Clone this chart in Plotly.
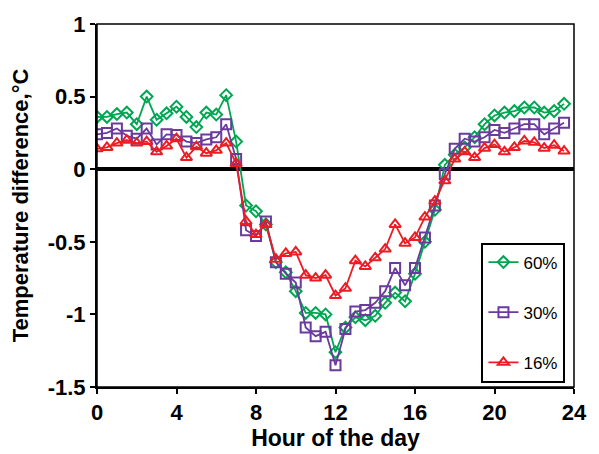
import plotly.graph_objects as go

hours = [i * 0.5 for i in range(48)]

g60 = [0.36, 0.36, 0.38, 0.39, 0.31, 0.50, 0.34, 0.385, 0.43, 0.36,
       0.29, 0.39, 0.376, 0.51, 0.19, -0.25, -0.29, -0.38, -0.64, -0.71,
       -0.84, -0.99, -0.99, -1.00, -1.26, -1.09, -1.02, -1.04, -1.01, -0.92,
       -0.85, -0.91, -0.72, -0.50, -0.28, 0.03, 0.10, 0.15, 0.22, 0.31,
       0.37, 0.39, 0.40, 0.425, 0.425, 0.39, 0.40, 0.45]
p30 = [0.24, 0.25, 0.28, 0.23, 0.21, 0.28, 0.17, 0.24, 0.235, 0.19,
       0.18, 0.205, 0.22, 0.31, 0.07, -0.42, -0.46, -0.36, -0.64, -0.72,
       -0.78, -1.09, -1.15, -1.12, -1.35, -1.10, -0.98, -0.97, -0.92, -0.84,
       -0.68, -0.80, -0.68, -0.47, -0.25, -0.035, 0.14, 0.21, 0.19, 0.22,
       0.27, 0.25, 0.28, 0.31, 0.31, 0.24, 0.28, 0.32]
r16 = [0.14, 0.15, 0.18, 0.20, 0.18, 0.19, 0.12, 0.16, 0.21, 0.08,
       0.155, 0.11, 0.13, 0.18, 0.04, -0.36, -0.45, -0.38, -0.62, -0.58,
       -0.57, -0.73, -0.75, -0.73, -0.87, -0.82, -0.63, -0.67, -0.61, -0.55,
       -0.38, -0.51, -0.47, -0.33, -0.22, -0.08, 0.07, 0.12, 0.08, 0.145,
       0.17, 0.12, 0.15, 0.195, 0.185, 0.145, 0.165, 0.125]

series = [
    ("60%", g60, "#00A651", "diamond-open", 9),
    ("30%", p30, "#6A3A9C", "square-open", 10),
    ("16%", r16, "#ED1C24", "triangle-up-open", 10),
]

fig = go.Figure()
for name, vals, col, sym, sz in series:
    fig.add_trace(go.Scatter(
        x=hours, y=vals, name=name, mode="lines+markers",
        legendgroup=name,
        line=dict(color=col, width=1.8),
        marker=dict(symbol=sym, size=sz, color=col, line=dict(color=col, width=2)),
    ))

font = "Liberation Sans, Arial, sans-serif"
fig.update_layout(
    width=599, height=454,
    margin=dict(l=97, r=14, t=21, b=66),
    paper_bgcolor="white", plot_bgcolor="white",
    font=dict(family=font, color="black"),
    showlegend=True,
    legend=dict(
        x=0.806, y=0.398, xanchor="left", yanchor="top",
        bgcolor="white", bordercolor="black", borderwidth=2,
        font=dict(size=17, family=font, color="black"),
        tracegroupgap=25, itemwidth=30,
        entrywidth=82,
    ),
    xaxis=dict(
        range=[0, 24], tickvals=[0, 4, 8, 12, 16, 20, 24],
        showgrid=False, zeroline=False,
        showline=True, linecolor="black", linewidth=2,
        ticks="outside", ticklen=5, tickwidth=2, tickcolor="black",
        tickfont=dict(size=22, family=font, color="black", weight="bold"),
        title=dict(text="<b>Hour of the day</b>", font=dict(size=23, family=font), standoff=0),
    ),
    yaxis=dict(
        range=[-1.5, 1], tickvals=[-1.5, -1, -0.5, 0, 0.5, 1],
        ticktext=["-1.5", "-1", "-0.5", "0", "0.5", "1"],
        showgrid=False,
        zeroline=True, zerolinecolor="black", zerolinewidth=4,
        showline=True, linecolor="black", linewidth=2,
        ticks="outside", ticklen=5, tickwidth=2, tickcolor="black",
        tickfont=dict(size=22, family=font, color="black", weight="bold"),
        title=dict(text="<b>Temperature difference,°C</b>", font=dict(size=22, family=font), standoff=13),
    ),
)
fig.add_shape(type="rect", xref="paper", yref="paper", x0=0, y0=0, x1=1, y1=1,
              line=dict(color="black", width=1.5), layer="above")

fig.write_html("out.html")
